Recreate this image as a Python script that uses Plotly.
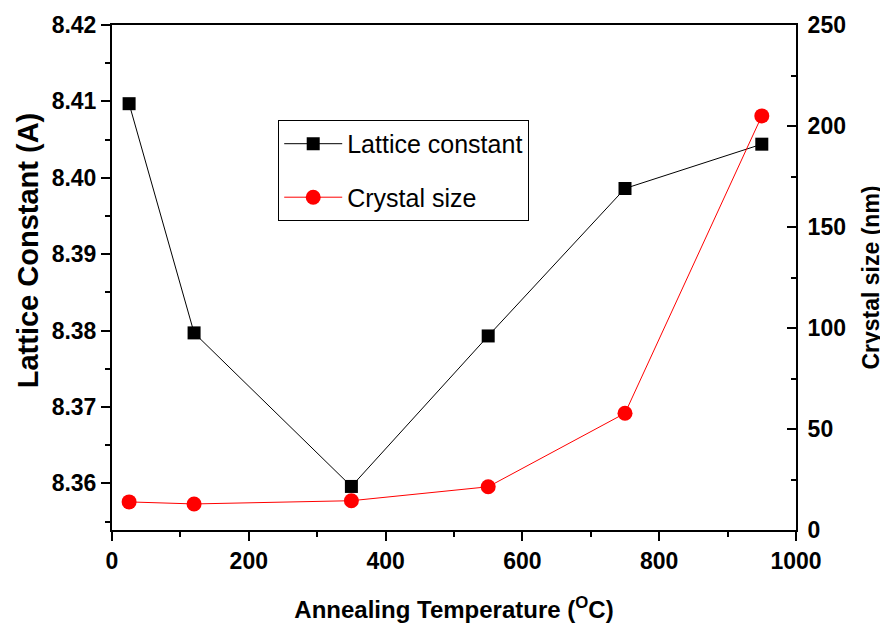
import plotly.graph_objects as go

temperature = [25, 120, 350, 550, 750, 950]
lattice_constant = [8.4097, 8.3797, 8.3596, 8.3793, 8.3986, 8.4044]
crystal_size = [13.9, 12.9, 14.5, 21.4, 57.8, 205.0]

FONT = "Liberation Sans, Arial, sans-serif"

fig = go.Figure()
fig.add_trace(go.Scatter(
    x=temperature, y=lattice_constant, name="Lattice constant",
    mode="lines+markers", legendgroup="a",
    line=dict(color="black", width=1),
    marker=dict(symbol="square", size=13, color="black"),
))
fig.add_trace(go.Scatter(
    x=temperature, y=crystal_size, name="Crystal size",
    mode="lines+markers", legendgroup="b", yaxis="y2",
    line=dict(color="#ff0000", width=1),
    marker=dict(symbol="circle", size=15, color="#ff0000"),
))

tickfont = dict(family=FONT, size=23, color="black", weight="bold")

# the page body has an 8px margin, so the figure is 880x616 placed at (8, 8)
fig.update_layout(
    width=880, height=616,
    margin=dict(l=104, r=92, t=17, b=94, autoexpand=False),
    paper_bgcolor="white", plot_bgcolor="white",
    showlegend=True,
    legend=dict(
        x=0.243, y=0.812, xanchor="left", yanchor="top",
        bordercolor="black", borderwidth=1, bgcolor="white",
        font=dict(family=FONT, size=25, color="black"),
        tracegroupgap=18, traceorder="grouped",
        itemwidth=58,
    ),
    xaxis=dict(
        range=[0, 1000], tickvals=[0, 200, 400, 600, 800, 1000],
        showline=True, linecolor="black", linewidth=2, mirror=True,
        ticks="outside", ticklen=9, tickwidth=2, tickcolor="black",
        minor=dict(dtick=100, ticks="outside", ticklen=5, tickwidth=2, tickcolor="black"),
        showgrid=False, zeroline=False, automargin=False,
        tickfont=tickfont,
        title=dict(text="Annealing Temperature (<sup>O</sup>C)",
                   font=dict(family=FONT, size=24, color="black", weight="bold"), standoff=29),
    ),
    yaxis=dict(
        range=[8.3539, 8.42], tickvals=[8.36, 8.37, 8.38, 8.39, 8.40, 8.41, 8.42],
        tickformat=".2f",
        showline=True, linecolor="black", linewidth=2,
        ticks="outside", ticklen=9, tickwidth=2, tickcolor="black",
        minor=dict(dtick=0.005, tick0=8.355, ticks="outside", ticklen=5, tickwidth=2, tickcolor="black"),
        showgrid=False, zeroline=False, automargin=False,
        tickfont=tickfont,
    ),
    yaxis2=dict(
        range=[0, 250], tickvals=[0, 50, 100, 150, 200, 250],
        overlaying="y", side="right",
        showline=True, linecolor="black", linewidth=2,
        ticks="inside", ticklen=9, tickwidth=2, tickcolor="black",
        minor=dict(dtick=25, ticks="inside", ticklen=5, tickwidth=2, tickcolor="black"),
        showgrid=False, zeroline=False, automargin=False,
        tickfont=tickfont, ticklabelstandoff=5,
        title=dict(text="Crystal size (nm)",
                   font=dict(family=FONT, size=23, color="black", weight="bold"), standoff=18),
    ),
    annotations=[dict(
        text="Lattice Constant (A)", textangle=-90, showarrow=False,
        xref="paper", yref="paper", x=-0.1228, y=0.554,
        xanchor="center", yanchor="middle",
        font=dict(family=FONT, size=29, color="black", weight="bold"),
    )],
)

fig.write_html("out.html")
